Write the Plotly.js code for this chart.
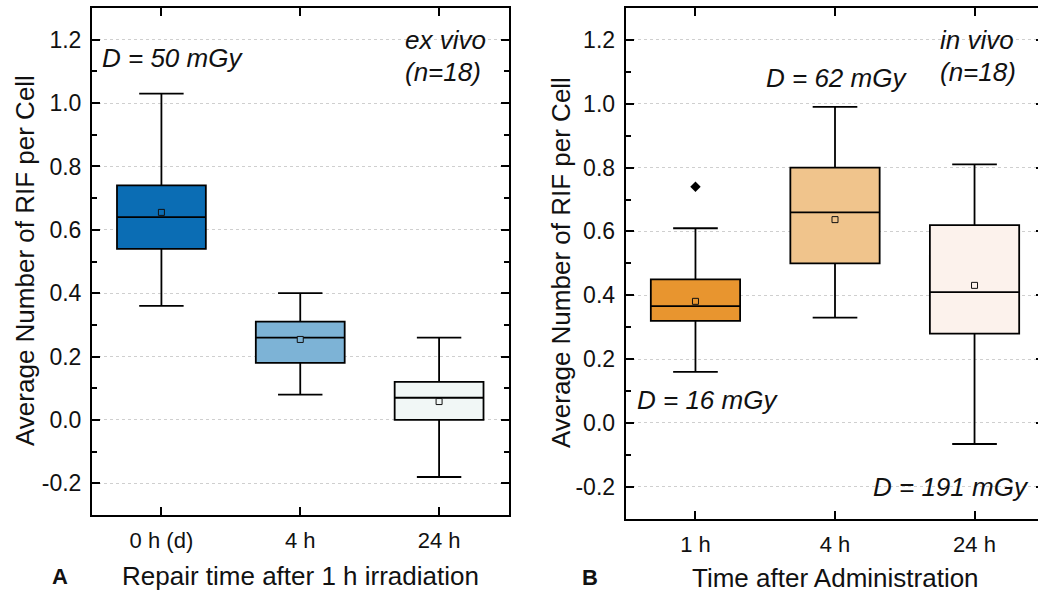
<!DOCTYPE html>
<html>
<head>
<meta charset="utf-8">
<script src="https://cdn.plot.ly/plotly-3.0.1.min.js"></script>
<style>
html,body{margin:0;padding:0;overflow:hidden;background:#fff;}
#chart{width:1050px;height:592px;}
</style>
</head>
<body>
<div id="chart"></div>
<script>
// ---------- Data ----------
const catsA = ['0 h (d)', '4 h', '24 h'];
const lowA  = [0.36, 0.08, -0.18];
const q1A   = [0.54, 0.18, 0.00];
const medA  = [0.64, 0.26, 0.07];
const q3A   = [0.74, 0.31, 0.12];
const highA = [1.03, 0.40, 0.26];
const meanA = [0.655, 0.254, 0.058];

const catsB = ['1 h', '4 h', '24 h'];
const lowB  = [0.16, 0.33, -0.066];
const q1B   = [0.32, 0.50, 0.28];
const medB  = [0.366, 0.66, 0.41];
const q3B   = [0.45, 0.80, 0.62];
const highB = [0.61, 0.99, 0.81];
const meanB = [0.381, 0.637, 0.431];
const outlierCatB = ['1 h'];
const outlierValB = [0.74];

const yTickVals = [-0.2, 0.0, 0.2, 0.4, 0.6, 0.8, 1.0, 1.2];
const yTickText = ['-0.2', '0.0', '0.2', '0.4', '0.6', '0.8', '1.0', '1.2'];

const colorsA = ['#0b6db4', '#7db3d6', '#f1f7f6'];
const colorsB = ['#e8952f', '#f0c48c', '#fcf2ec'];

// ---------- Geometry helpers (pixel -> paper) ----------
const W = 1050, H = 592;
const px = x => x / W;
const py = y => 1 - y / H;

const FONT = 'Liberation Sans, Arial, Helvetica, sans-serif';

const traces = [];
function addBoxes(cats, lo, q1, med, q3, hi, colors, xa, ya) {
  cats.forEach((c, i) => {
    traces.push({
      type: 'box', x: [c], q1: [q1[i]], median: [med[i]], q3: [q3[i]],
      lowerfence: [lo[i]], upperfence: [hi[i]],
      boxpoints: false, boxmean: false,
      width: 0.64, whiskerwidth: 0.5,
      fillcolor: colors[i], line: {color: '#000', width: 1.8},
      xaxis: xa, yaxis: ya, showlegend: false, hoverinfo: 'skip'
    });
  });
}
addBoxes(catsA, lowA, q1A, medA, q3A, highA, colorsA, 'x', 'y');
addBoxes(catsB, lowB, q1B, medB, q3B, highB, colorsB, 'x2', 'y2');

traces.push({
  type: 'scatter', mode: 'markers', x: catsA, y: meanA, xaxis: 'x', yaxis: 'y',
  marker: {symbol: 'square', size: 6, color: colorsA, line: {color: '#111', width: 1}},
  showlegend: false, hoverinfo: 'skip'
});
traces.push({
  type: 'scatter', mode: 'markers', x: catsB, y: meanB, xaxis: 'x2', yaxis: 'y2',
  marker: {symbol: 'square', size: 6, color: colorsB, line: {color: '#111', width: 1}},
  showlegend: false, hoverinfo: 'skip'
});
traces.push({
  type: 'scatter', mode: 'markers', x: outlierCatB, y: outlierValB, xaxis: 'x2', yaxis: 'y2',
  marker: {symbol: 'diamond', size: 8, color: '#000'},
  showlegend: false, hoverinfo: 'skip'
});

function xAxis(cats, domain, anchor) {
  return {
    domain: domain, anchor: anchor, type: 'category',
    categoryorder: 'array', categoryarray: cats,
    range: [-0.5, cats.length - 0.5],
    showline: true, linecolor: '#000', linewidth: 2, mirror: 'allticks',
    ticks: 'inside', ticklen: 8, tickwidth: 2, tickcolor: '#000',
    ticklabelstandoff: 5,
    showgrid: false, zeroline: false,
    tickfont: {family: FONT, size: 22, color: '#111'}
  };
}
function yAxis(domain, anchor) {
  return {
    domain: domain, anchor: anchor, range: [-0.3, 1.3],
    tickmode: 'array', tickvals: yTickVals, ticktext: yTickText,
    showline: true, linecolor: '#000', linewidth: 2, mirror: 'allticks',
    ticks: 'inside', ticklen: 8, tickwidth: 2, tickcolor: '#000',
    ticklabelstandoff: 4,
    minor: {ticks: 'inside', dtick: 0.1, tick0: 0, ticklen: 5, tickwidth: 2, tickcolor: '#000', showgrid: false},
    showgrid: true, gridcolor: '#cfcfcf', griddash: 'dot', gridwidth: 1,
    zeroline: false,
    tickfont: {family: FONT, size: 23, color: '#111'}
  };
}

function ann(text, x, y, xanchor, size, extra) {
  return Object.assign({
    text: text, xref: 'paper', yref: 'paper', x: px(x), y: py(y),
    xanchor: xanchor, yanchor: 'middle', showarrow: false,
    font: {family: FONT, size: size, color: '#111'}
  }, extra || {});
}

const annotations = [
  ann('<i>D = 50 mGy</i>', 100, 58, 'left', 26),
  ann('<i>ex vivo</i>', 445, 40, 'center', 26),
  ann('<i>(n=18)</i>', 443, 72, 'center', 26),
  ann('<i>in vivo</i>', 977, 40, 'center', 26),
  ann('<i>(n=18)</i>', 978, 72, 'center', 26),
  ann('<i>D = 62 mGy</i>', 836, 78, 'center', 26),
  ann('<i>D = 16 mGy</i>', 635, 400, 'left', 26),
  ann('<i>D = 191 mGy</i>', 1031, 487, 'right', 26),
  ann('<b>A</b>', 60, 576, 'center', 22),
  ann('<b>B</b>', 590, 577, 'center', 22),
  ann('Repair time after 1 h irradiation', 300, 576, 'center', 26),
  ann('Time after Administration', 835, 578, 'center', 26),
  ann('Average Number of RIF per Cell', 25, 261, 'center', 26, {textangle: -90}),
  ann('Average Number of RIF per Cell', 561, 263, 'center', 26, {textangle: -90})
];

const layout = {
  width: W, height: H,
  margin: {l: 0, r: 0, t: 0, b: 0},
  paper_bgcolor: '#fff', plot_bgcolor: '#fff',
  boxmode: 'overlay', showlegend: false,
  xaxis: xAxis(catsA, [px(92), px(508.5)], 'y'),
  yaxis: yAxis([py(515), py(8)], 'x'),
  xaxis2: xAxis(catsB, [px(625.7), px(1044.3)], 'y2'),
  yaxis2: yAxis([py(518.7), py(8)], 'x2'),
  annotations: annotations
};

Plotly.newPlot('chart', traces, layout, {displayModeBar: false, staticPlot: true});
</script>
</body>
</html>
